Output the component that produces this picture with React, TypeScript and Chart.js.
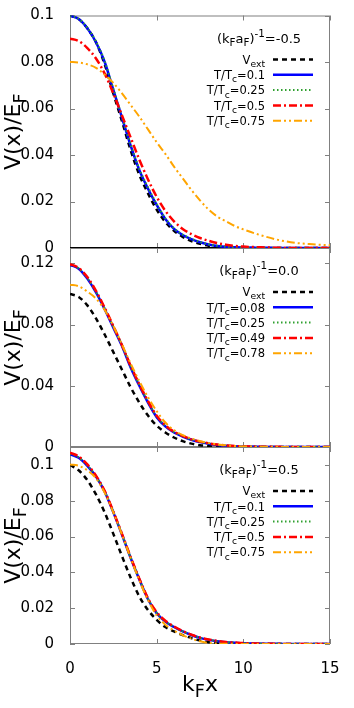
import React, { useEffect, useRef } from 'react';
import { Chart, registerables } from 'chart.js';
Chart.register(...registerables);

const W = 354;
const H = 708;
const FONT = '"DejaVu Sans", "Liberation Sans", sans-serif';

// ---------- data ----------
const kFx = [0, 0.5, 1, 1.5, 2, 2.5, 3, 3.5, 4, 4.5, 5, 5.5, 6, 6.5, 7, 7.5, 8, 8.5, 9, 9.5, 10, 11, 12, 13, 14, 15];
const xTicks = [0, 5, 10, 15];

// panel 1 : (kF aF)^-1 = -0.5
const vext1 = [0.1, 0.0985, 0.0945, 0.0885, 0.079, 0.0665, 0.0545, 0.042, 0.0315, 0.0235, 0.0165, 0.0112, 0.0074, 0.0048, 0.003, 0.0018, 0.001, 0.0005, 0.0002, 0.0001, 0, 0, 0, 0, 0, 0];
const blue1 = [0.1, 0.0985, 0.0945, 0.0885, 0.08, 0.068, 0.056, 0.044, 0.0335, 0.0255, 0.0185, 0.0125, 0.0082, 0.0056, 0.0038, 0.0025, 0.0015, 0.0009, 0.0005, 0.0003, 0.0002, 0.0001, 0, 0, 0, 0];
const green1 = [0.1, 0.0986, 0.0947, 0.0888, 0.0804, 0.0685, 0.0565, 0.0445, 0.034, 0.026, 0.019, 0.0128, 0.0085, 0.0058, 0.004, 0.0026, 0.0016, 0.001, 0.0006, 0.0003, 0.0002, 0.0001, 0, 0, 0, 0];
const red1 = [0.09, 0.089, 0.086, 0.0815, 0.075, 0.0665, 0.057, 0.0475, 0.038, 0.0295, 0.022, 0.016, 0.0115, 0.0082, 0.006, 0.0043, 0.0031, 0.0021, 0.0014, 0.0009, 0.0006, 0.0003, 0.0001, 0, 0, 0];
const orange1 = [0.08, 0.0798, 0.079, 0.0775, 0.0745, 0.071, 0.0665, 0.0615, 0.0565, 0.051, 0.0455, 0.0405, 0.035, 0.03, 0.025, 0.0205, 0.0165, 0.0135, 0.0115, 0.0095, 0.008, 0.0055, 0.0035, 0.0022, 0.0016, 0.0012];

// panel 2 : (kF aF)^-1 = 0.0
const vext2 = [0.1, 0.098, 0.0925, 0.084, 0.0735, 0.062, 0.0505, 0.039, 0.029, 0.0205, 0.014, 0.0095, 0.0062, 0.0038, 0.0022, 0.0012, 0.0006, 0.0003, 0.0001, 0, 0, 0, 0, 0, 0, 0];
const blue2 = [0.119, 0.1165, 0.11, 0.101, 0.09, 0.078, 0.066, 0.052, 0.04, 0.029, 0.0195, 0.0135, 0.0095, 0.0068, 0.0047, 0.0032, 0.0021, 0.0013, 0.0008, 0.0005, 0.0003, 0.0001, 0, 0, 0, 0];
const green2 = [0.1192, 0.1167, 0.1103, 0.1013, 0.0905, 0.0785, 0.0665, 0.0525, 0.0405, 0.0295, 0.02, 0.0138, 0.0097, 0.007, 0.0048, 0.0033, 0.0022, 0.0014, 0.0009, 0.0005, 0.0003, 0.0001, 0, 0, 0, 0];
const red2 = [0.1195, 0.117, 0.111, 0.102, 0.091, 0.079, 0.0665, 0.053, 0.041, 0.03, 0.0205, 0.0142, 0.01, 0.0072, 0.005, 0.0035, 0.0024, 0.0016, 0.001, 0.0006, 0.0004, 0.0002, 0.0001, 0, 0, 0];
const orange2 = [0.106, 0.105, 0.1015, 0.097, 0.0895, 0.079, 0.067, 0.0545, 0.043, 0.0325, 0.0235, 0.016, 0.011, 0.0078, 0.0055, 0.0038, 0.0026, 0.0017, 0.0011, 0.0007, 0.0004, 0.0002, 0.0001, 0, 0, 0];

// panel 3 : (kF aF)^-1 = 0.5
const vext3 = [0.1, 0.097, 0.0915, 0.0835, 0.0735, 0.0615, 0.049, 0.037, 0.0265, 0.019, 0.0135, 0.0095, 0.007, 0.005, 0.0033, 0.0019, 0.001, 0.0004, 0.0001, 0, 0, 0, 0, 0, 0, 0];
const blue3 = [0.106, 0.104, 0.0995, 0.0935, 0.085, 0.0735, 0.061, 0.048, 0.036, 0.025, 0.0172, 0.0125, 0.0095, 0.007, 0.005, 0.0034, 0.0023, 0.0015, 0.001, 0.0007, 0.0004, 0.0002, 0.0001, 0, 0, 0];
const green3 = [0.1062, 0.1042, 0.0997, 0.0937, 0.0853, 0.0738, 0.0613, 0.0483, 0.0363, 0.0253, 0.0175, 0.0127, 0.0096, 0.0071, 0.0051, 0.0035, 0.0024, 0.0016, 0.001, 0.0007, 0.0004, 0.0002, 0.0001, 0, 0, 0];
const red3 = [0.1068, 0.1048, 0.1003, 0.094, 0.0855, 0.074, 0.0615, 0.0485, 0.0365, 0.0255, 0.0178, 0.013, 0.0098, 0.0073, 0.0052, 0.0036, 0.0025, 0.0017, 0.0011, 0.0008, 0.0005, 0.0002, 0.0001, 0, 0, 0];
const orange3 = [0.1002, 0.0995, 0.097, 0.0925, 0.0845, 0.0735, 0.061, 0.048, 0.0355, 0.0245, 0.016, 0.0108, 0.0075, 0.005, 0.003, 0.0015, 0.0006, 0.0002, 0.0001, 0, 0, 0, 0, 0, 0, 0];

const couplings = ['-0.5', '0.0', '0.5'];
const temps1 = ['0.1', '0.25', '0.5', '0.75'];
const temps2 = ['0.08', '0.25', '0.49', '0.78'];
const temps3 = ['0.1', '0.25', '0.5', '0.75'];
const yMaxes = [0.1, 0.13, 0.11];
const yTicks1 = [0, 0.02, 0.04, 0.06, 0.08, 0.1];
const yTicks2 = [0, 0.04, 0.08, 0.12];
const yTicks3 = [0, 0.02, 0.04, 0.06, 0.08, 0.1];

const panelSeries = [
  [vext1, blue1, green1, red1, orange1],
  [vext2, blue2, green2, red2, orange2],
  [vext3, blue3, green3, red3, orange3],
];
const panelTemps = [temps1, temps2, temps3];
const panelYTicks = [yTicks1, yTicks2, yTicks3];

// ---------- layout / style ----------
const PANEL_TOP = [8, 248, 447];
const PANEL_BOTTOM = [248, 447, 644];
const PLOT_LEFT = 70;
const PLOT_RIGHT = 330;

const STYLES = [
  { color: '#000000', width: 2.5, dash: [5, 4] },
  { color: '#0000ff', width: 2.5, dash: [] as number[] },
  { color: '#2fa02f', width: 2, dash: [1.5, 2.5] },
  { color: '#ff0000', width: 2.5, dash: [8, 3, 2, 3] },
  { color: '#ffa500', width: 2, dash: [8, 3, 2, 3, 2, 3] },
];

type Seg = [string, number];

function segFont(size: number, kind: number) {
  return `${kind === 0 ? size : size * 0.8}px ${FONT}`;
}
function measureRich(ctx: CanvasRenderingContext2D, segs: Seg[], size: number) {
  let w = 0;
  for (const [t, k] of segs) {
    ctx.font = segFont(size, k);
    w += ctx.measureText(t).width;
  }
  return w;
}
function drawRich(ctx: CanvasRenderingContext2D, segs: Seg[], x: number, y: number, size: number, align: 'left' | 'center' | 'right') {
  const w = measureRich(ctx, segs, size);
  let cx = align === 'left' ? x : align === 'center' ? x - w / 2 : x - w;
  ctx.textAlign = 'left';
  ctx.textBaseline = 'alphabetic';
  ctx.fillStyle = '#000';
  for (const [t, k] of segs) {
    ctx.font = segFont(size, k);
    const dy = k === -1 ? size * 0.28 : k === 1 ? -size * 0.45 : 0;
    ctx.fillText(t, cx, y + dy);
    cx += ctx.measureText(t).width;
  }
}

function makePlugin(pi: number) {
  return {
    id: 'decor' + pi,
    beforeDatasetsDraw(chart: any) {
      const { ctx, chartArea: a, scales } = chart;
      const ys = scales.y;
      const xs = scales.x;
      ctx.save();
      ctx.strokeStyle = '#808080';
      ctx.lineWidth = 1;
      ctx.setLineDash([]);
      ctx.strokeRect(a.left + 0.5, a.top + 0.5, a.right - a.left - 1, a.bottom - a.top - 1);
      ctx.beginPath();
      for (const t of ys.ticks) {
        const py = Math.round(ys.getPixelForValue(t.value)) + 0.5;
        ctx.moveTo(a.left, py);
        ctx.lineTo(a.left + 5, py);
        ctx.moveTo(a.right, py);
        ctx.lineTo(a.right - 5, py);
      }
      for (const v of xTicks) {
        const px = Math.round(xs.getPixelForValue(v)) + 0.5;
        ctx.moveTo(px, a.top);
        ctx.lineTo(px, a.top + 5);
        ctx.moveTo(px, a.bottom);
        ctx.lineTo(px, a.bottom - 5);
      }
      ctx.stroke();
      if (pi === 0) {
        const py = Math.round(ys.getPixelForValue(0)) - 0.5;
        ctx.strokeStyle = '#000';
        ctx.beginPath();
        ctx.moveTo(a.left, py);
        ctx.lineTo(a.right, py);
        ctx.stroke();
      }
      ctx.restore();
    },
    afterDraw(chart: any) {
      const { ctx, chartArea: a } = chart;
      const top = a.top;
      ctx.save();
      drawRich(ctx, [['(k', 0], ['F', -1], ['a', 0], ['F', -1], [')', 0], ['-1', 1], ['=' + couplings[pi], 0]], 259, top + 27, 13, 'center');
      const rows: Seg[][] = [
        [['V', 0], ['ext', -1]],
        ...panelTemps[pi].map((t) => [['T/T', 0], ['c', -1], ['=' + t, 0]] as Seg[]),
      ];
      rows.forEach((segs, i) => {
        const cy = top + 44 + i * 15.3;
        drawRich(ctx, segs, 265, cy + 4.2, 11.5, 'right');
        const st = STYLES[i];
        ctx.beginPath();
        ctx.setLineDash(st.dash);
        ctx.lineWidth = st.width;
        ctx.strokeStyle = st.color;
        ctx.moveTo(273, cy);
        ctx.lineTo(313, cy);
        ctx.stroke();
      });
      ctx.setLineDash([]);
      ctx.save();
      ctx.translate(20, (a.top + a.bottom) / 2);
      ctx.rotate(-Math.PI / 2);
      drawRich(ctx, [['V(x)/E', 0], ['F', -1]], 0, 0, 22, 'center');
      ctx.restore();
      if (pi === 2) {
        drawRich(ctx, [['k', 0], ['F', -1], ['x', 0]], (a.left + a.right) / 2, 691, 22, 'center');
      }
      ctx.restore();
    },
  };
}

function buildConfig(pi: number): any {
  const isBottom = pi === 2;
  const datasets = panelSeries[pi].map((arr, i) => ({
    label: 'series' + i,
    data: kFx.map((x, j) => ({ x, y: arr[j] })),
    borderColor: STYLES[i].color,
    borderWidth: STYLES[i].width,
    borderDash: STYLES[i].dash,
    pointRadius: 0,
    fill: false,
    cubicInterpolationMode: 'monotone',
    order: 5 - i,
  }));
  return {
    type: 'line',
    data: { datasets },
    plugins: [makePlugin(pi)],
    options: {
      responsive: false,
      maintainAspectRatio: false,
      animation: false,
      devicePixelRatio: 1,
      events: [],
      layout: {
        padding: {
          top: PANEL_TOP[pi],
          bottom: isBottom ? 0 : H - PANEL_BOTTOM[pi],
          left: 0,
          right: W - PLOT_RIGHT,
        },
      },
      plugins: { legend: { display: false }, tooltip: { enabled: false }, title: { display: false } },
      scales: {
        x: {
          type: 'linear',
          min: 0,
          max: 15,
          display: isBottom,
          grid: { display: false },
          border: { display: false },
          ticks: {
            stepSize: 5,
            padding: 10,
            color: '#000',
            font: { family: FONT, size: 15, lineHeight: 1 },
            callback: (v: number) => String(v),
            maxRotation: 0,
          },
          afterBuildTicks: (scale: any) => {
            scale.ticks = xTicks.map((v) => ({ value: v }));
          },
          afterFit: (scale: any) => {
            if (isBottom) scale.height = H - PANEL_BOTTOM[2];
          },
        },
        y: {
          type: 'linear',
          min: 0,
          max: yMaxes[pi],
          grid: { display: false },
          border: { display: false },
          ticks: {
            padding: 8,
            color: '#000',
            font: { family: FONT, size: 15, lineHeight: 1 },
            callback: (v: number) => String(Number(v.toFixed(4))),
          },
          afterBuildTicks: (scale: any) => {
            scale.ticks = panelYTicks[pi].map((v) => ({ value: v }));
          },
          afterFit: (scale: any) => {
            scale.width = PLOT_LEFT;
          },
        },
      },
    },
  };
}

export default function App() {
  const r0 = useRef<HTMLCanvasElement>(null);
  const r1 = useRef<HTMLCanvasElement>(null);
  const r2 = useRef<HTMLCanvasElement>(null);
  useEffect(() => {
    const refs = [r0, r1, r2];
    const charts = refs.map((r, i) => new Chart(r.current as HTMLCanvasElement, buildConfig(i)));
    return () => charts.forEach((c) => c.destroy());
  }, []);
  return (
    <div style={{ position: 'fixed', left: 0, top: 0, width: W, height: H, background: '#fff' }}>
      {[r0, r1, r2].map((r, i) => (
        <canvas key={i} ref={r} width={W} height={H} style={{ position: 'absolute', left: 0, top: 0, width: W, height: H }} />
      ))}
    </div>
  );
}
